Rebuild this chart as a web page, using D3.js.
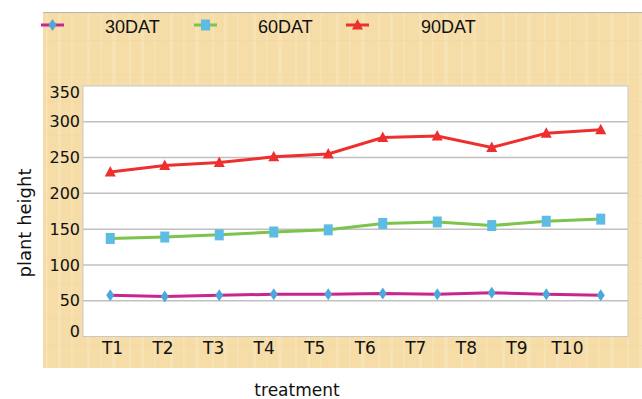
<!DOCTYPE html>
<html>
<head>
<meta charset="utf-8">
<script src="https://cdn.jsdelivr.net/npm/d3@7"></script>
<style>
  body { margin: 0; background: #fff; }
  svg { display: block; }
</style>
</head>
<body>
<div id="chart"></div>
<script>
// data
var treatments = ["T1", "T2", "T3", "T4", "T5", "T6", "T7", "T8", "T9", "T10"];
var dat30 = [57.5, 56, 57.5, 59, 59, 60, 59, 61, 59, 57.5];
var dat60 = [137, 139, 142, 146, 149, 158, 160, 155, 161, 164];
var dat90 = [230, 239, 243, 251, 255, 278, 280, 264, 284, 289];
var yTicks = [0, 50, 100, 150, 200, 250, 300, 350];

var series = [
    { name: "30DAT", values: dat30, line: "#c8268c", marker: "#4aa8dc", shape: "diamond" },
    { name: "60DAT", values: dat60, line: "#7cc44c", marker: "#5cbce4", shape: "square" },
    { name: "90DAT", values: dat90, line: "#ee2f2f", marker: "#ee2f2f", shape: "triangle" }
];

var w = 642, h = 399;
var plot = { left: 83, right: 628, top: 86, bottom: 336.5 };

var svg = d3.select("#chart").append("svg")
    .attr("width", w)
    .attr("height", h);

// papyrus-ish background, kept subtle
var defs = svg.append("defs");
var pat = defs.append("pattern")
    .attr("id", "papyrus")
    .attr("patternUnits", "userSpaceOnUse")
    .attr("width", 83).attr("height", 61);
pat.append("rect").attr("width", 83).attr("height", 61).attr("fill", "#f6dca7");
[[4, 3], [17, 1.5], [29, 4], [46, 2], [58, 3], [71, 1.5]].forEach(function (s) {
    pat.append("rect").attr("x", s[0]).attr("y", 0).attr("width", s[1]).attr("height", 61)
        .attr("fill", "#f9e6bd").attr("opacity", 0.6);
});
[[13, 1], [40, 1]].forEach(function (s) {
    pat.append("rect").attr("x", 0).attr("y", s[0]).attr("width", 83).attr("height", s[1])
        .attr("fill", "#f1d59d").attr("opacity", 0.4);
});

svg.append("rect")
    .attr("x", 43).attr("y", 12)
    .attr("width", w - 43).attr("height", 368 - 12)
    .attr("fill", "url(#papyrus)");
svg.append("line")
    .attr("x1", 43).attr("x2", w).attr("y1", 12.5).attr("y2", 12.5)
    .attr("stroke", "#b8b8b8").attr("stroke-width", 1);

// scales
var x = d3.scalePoint().domain(treatments).range([plot.left, plot.right]).padding(0.5);
var xLabels = d3.scalePoint().domain(treatments).range([112, 567]);
var y = d3.scaleLinear().domain([0, 350]).range([plot.bottom, plot.top]);

// plot area
svg.append("rect")
    .attr("x", plot.left).attr("y", plot.top)
    .attr("width", plot.right - plot.left).attr("height", plot.bottom - plot.top)
    .attr("fill", "#fff")
    .attr("stroke", "#c8c8c8").attr("stroke-width", 1);

svg.append("g")
    .selectAll("line")
    .data(yTicks.filter(function (d) { return d > 0 && d < 350; }))
    .enter().append("line")
    .attr("x1", plot.left).attr("x2", plot.right)
    .attr("y1", function (d) { return y(d); })
    .attr("y2", function (d) { return y(d); })
    .attr("stroke", "#c0c0c0")
    .attr("stroke-width", 1.5);

// y axis labels
var yAxis = svg.append("g")
    .attr("transform", "translate(" + plot.left + ",0)")
    .call(d3.axisLeft(y).tickValues(yTicks).tickSize(0).tickPadding(3));
yAxis.select(".domain").remove();
yAxis.selectAll("text")
    .style("font-family", "DejaVu Sans")
    .style("font-size", "16px")
    .attr("fill", "#111");
yAxis.selectAll(".tick").filter(function (d) { return d === 350; }).select("text").attr("dy", "0.7em");
yAxis.selectAll(".tick").filter(function (d) { return d === 0; }).select("text").attr("dy", "0em");

// x axis labels
var xAxis = svg.append("g")
    .attr("transform", "translate(0," + plot.bottom + ")")
    .call(d3.axisBottom(xLabels).tickSize(0).tickPadding(5));
xAxis.select(".domain").remove();
xAxis.selectAll("text")
    .style("font-family", "DejaVu Sans")
    .style("font-size", "17px")
    .attr("fill", "#111");

// axis titles
svg.append("text")
    .attr("transform", "translate(31,223) rotate(-90)")
    .attr("text-anchor", "middle")
    .style("font-family", "DejaVu Sans")
    .style("font-size", "18px")
    .attr("fill", "#111")
    .text("plant height");

svg.append("text")
    .attr("x", 297).attr("y", 396)
    .attr("text-anchor", "middle")
    .style("font-family", "DejaVu Sans")
    .style("font-size", "17px")
    .attr("fill", "#111")
    .text("treatment");

// markers
function markerPath(shape) {
    if (shape === "diamond") return "M0,-6L4,0L0,6L-4,0Z";
    if (shape === "square") return "M-4.5,-5.5H4.5V5.5H-4.5Z";
    return "M0,-6L5.5,4.5H-5.5Z";
}

var line = d3.line()
    .x(function (d, i) { return x(treatments[i]); })
    .y(function (d) { return y(d); });

series.forEach(function (s) {
    svg.append("path")
        .datum(s.values)
        .attr("d", line)
        .attr("fill", "none")
        .attr("stroke", s.line)
        .attr("stroke-width", 3);

    svg.append("g")
        .selectAll("path")
        .data(s.values)
        .enter().append("path")
        .attr("d", markerPath(s.shape))
        .attr("transform", function (d, i) { return "translate(" + x(treatments[i]) + "," + y(d) + ")"; })
        .attr("fill", s.marker);
});

// legend
var legendX = [41, 194, 346];
var legend = svg.append("g");
series.forEach(function (s, i) {
    var g = legend.append("g").attr("transform", "translate(" + legendX[i] + ",25)");
    g.append("line")
        .attr("x1", 0).attr("x2", 23)
        .attr("stroke", s.line).attr("stroke-width", 3);
    g.append("path")
        .attr("d", markerPath(s.shape))
        .attr("transform", "translate(11.5,0)")
        .attr("fill", s.marker);
    g.append("text")
        .attr("x", [64, 64, 75][i]).attr("y", 8)
        .style("font-family", "Liberation Sans")
        .style("font-size", "18px")
        .attr("fill", "#111")
        .text(s.name);
});
</script>
</body>
</html>
